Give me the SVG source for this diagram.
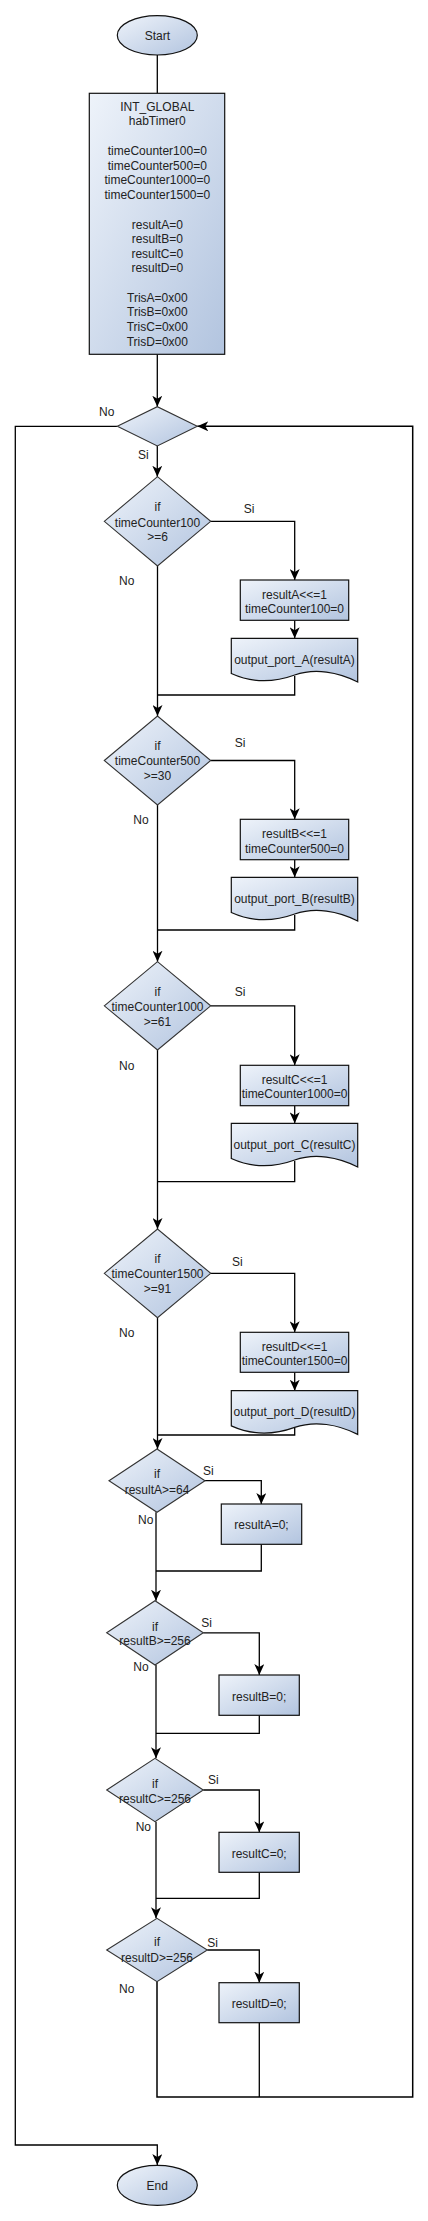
<svg xmlns="http://www.w3.org/2000/svg" width="428" height="2221" viewBox="0 0 428 2221">
<style>
text{font-family:"Liberation Sans",Arial,sans-serif;font-size:12px;fill:#222;text-anchor:middle}
.sh{fill:url(#g);stroke:#111;stroke-width:1.2}
.dm{fill:url(#g);stroke:#333;stroke-width:1.1}
.c{fill:none;stroke:#000;stroke-width:1.3}
.a{marker-end:url(#ar)}
</style>
<defs>
<linearGradient id="g" x1="0" y1="0" x2="1" y2="1">
<stop offset="0" stop-color="#eef3fa"/>
<stop offset="1" stop-color="#b2c4df"/>
</linearGradient>
<marker id="ar" markerUnits="userSpaceOnUse" markerWidth="12" markerHeight="10" viewBox="0 0 12 10" refX="11" refY="5" orient="auto">
<path d="M0,0 L11,5 L0,10 L3,5 z" fill="#000"/>
</marker>
</defs>
<g id="connectors">
<path class="c" d="M157.3,55 V93.3"/>
<path class="c a" d="M157.3,354.3 V406.7"/>
<path class="c a" d="M117.3,426.3 H15.3 V2145 H157.3 V2165"/>
<path class="c a" d="M157.3,446 V476.7"/>
<path class="c a" d="M210.7,521.3 H294.7 V580"/>
<path class="c a" d="M294.7,620.3 V638.3"/>
<path class="c" d="M294.7,676 V695 H157.5"/>
<path class="c a" d="M157.5,566 V716"/>
<path class="c a" d="M210.7,760.5 H294.7 V819.3"/>
<path class="c a" d="M294.7,859.7 V877.3"/>
<path class="c" d="M294.7,915 V930 H157.5"/>
<path class="c a" d="M157.5,805 V961.7"/>
<path class="c a" d="M210.7,1005.8 H294.7 V1065.3"/>
<path class="c a" d="M294.7,1105.7 V1123.3"/>
<path class="c" d="M294.7,1161 V1181.7 H157.5"/>
<path class="c a" d="M157.5,1050 V1229"/>
<path class="c a" d="M210.7,1273.3 H294.7 V1332.3"/>
<path class="c a" d="M294.7,1372.3 V1390.7"/>
<path class="c" d="M294.7,1428 V1435 H157.5"/>
<path class="c a" d="M157.5,1317.7 V1449"/>
<path class="c a" d="M205,1480.7 H261.3 V1504"/>
<path class="c" d="M261.3,1544.3 V1571 H156"/>
<path class="c a" d="M156,1512.3 V1600.7"/>
<path class="c a" d="M203.3,1632.8 H259.3 V1675"/>
<path class="c" d="M259.3,1715.3 V1733.3 H156"/>
<path class="c a" d="M156,1665 V1758.3"/>
<path class="c a" d="M203.3,1790 H259.3 V1832.3"/>
<path class="c" d="M259.3,1872.3 V1898.3 H156"/>
<path class="c a" d="M156,1821.7 V1918.3"/>
<path class="c a" d="M207.3,1950 H259.3 V1982.7"/>
<path class="c" d="M259.3,2022.7 V2097"/>
<path class="c a" d="M157,1981.7 V2097 H412.7 V426.3 H197.3" style="stroke-width:1.5"/>
</g>
<g id="labels">
<text x="106.7" y="416.3">No</text>
<text x="143.3" y="459">Si</text>
<text x="249" y="513">Si</text>
<text x="126.7" y="585">No</text>
<text x="240" y="747.3">Si</text>
<text x="141" y="824">No</text>
<text x="240" y="995.7">Si</text>
<text x="126.7" y="1070">No</text>
<text x="237.3" y="1266.3">Si</text>
<text x="126.7" y="1337.3">No</text>
<text x="208.3" y="1474.7">Si</text>
<text x="145.7" y="1524">No</text>
<text x="206.7" y="1627.3">Si</text>
<text x="141" y="1671">No</text>
<text x="213.3" y="1784">Si</text>
<text x="143.3" y="1831.3">No</text>
<text x="212.7" y="1946.7">Si</text>
<text x="126.7" y="1993">No</text>
</g>
<g id="start">
<ellipse class="sh" cx="157.3" cy="35.3" rx="40" ry="19.7"/>
<text x="157.3" y="39.5">Start</text>
</g>
<g id="init">
<rect class="sh" x="89.3" y="93.3" width="135.4" height="261"/>
<text x="157.3" y="110.9">INT_GLOBAL</text>
<text x="157.3" y="124.9">habTimer0</text>
<text x="157.3" y="155.2">timeCounter100=0</text>
<text x="157.3" y="169.5">timeCounter500=0</text>
<text x="157.3" y="184.2">timeCounter1000=0</text>
<text x="157.3" y="199.2">timeCounter1500=0</text>
<text x="157.3" y="228.5">resultA=0</text>
<text x="157.3" y="243.2">resultB=0</text>
<text x="157.3" y="258.2">resultC=0</text>
<text x="157.3" y="271.9">resultD=0</text>
<text x="157.3" y="302.2">TrisA=0x00</text>
<text x="157.3" y="316.2">TrisB=0x00</text>
<text x="157.3" y="331.2">TrisC=0x00</text>
<text x="157.3" y="345.9">TrisD=0x00</text>
</g>
<g id="loop">
<polygon class="dm" points="117.3,426.3 157.3,406.7 197.3,426.3 157.3,446"/>
</g>
<g id="if100">
<polygon class="dm" points="104.3,521.3 157.5,476.7 210.7,521.3 157.5,566"/>
<text x="157.5" y="510.9">if</text>
<text x="157.5" y="526.5">timeCounter100</text>
<text x="157.5" y="540.9">&gt;=6</text>
</g>
<g id="procA">
<rect class="sh" x="240.3" y="580" width="108.4" height="40.3"/>
<text x="294.5" y="598.5">resultA&lt;&lt;=1</text>
<text x="294.5" y="613.2">timeCounter100=0</text>
</g>
<g id="docA">
<path class="sh" d="M231.3,638.3 H357.7 V682 C338,672 315,668 294.7,675 C270,684 250,682 231.3,673.5 Z"/>
<text x="294.5" y="663.5">output_port_A(resultA)</text>
</g>
<g id="if500">
<polygon class="dm" points="104.3,760.5 157.5,716 210.7,760.5 157.5,805"/>
<text x="157.5" y="750.2">if</text>
<text x="157.5" y="764.9">timeCounter500</text>
<text x="157.5" y="779.5">&gt;=30</text>
</g>
<g id="procB">
<rect class="sh" x="240.3" y="819.3" width="108.4" height="40.4"/>
<text x="294.5" y="837.5">resultB&lt;&lt;=1</text>
<text x="294.5" y="852.5">timeCounter500=0</text>
</g>
<g id="docB">
<path class="sh" d="M231.3,877.3 H357.7 V921 C338,911 315,907 294.7,914 C270,923 250,921 231.3,912.5 Z"/>
<text x="294.5" y="902.5">output_port_B(resultB)</text>
</g>
<g id="if1000">
<polygon class="dm" points="104.3,1005.8 157.5,961.7 210.7,1005.8 157.5,1050"/>
<text x="157.5" y="995.9">if</text>
<text x="157.5" y="1010.9">timeCounter1000</text>
<text x="157.5" y="1025.9">&gt;=61</text>
</g>
<g id="procC">
<rect class="sh" x="240.3" y="1065.3" width="108.4" height="40.4"/>
<text x="294.5" y="1083.5">resultC&lt;&lt;=1</text>
<text x="294.5" y="1098.2">timeCounter1000=0</text>
</g>
<g id="docC">
<path class="sh" d="M231.3,1123.3 H357.7 V1167 C338,1157 315,1153 294.7,1160 C270,1169 250,1167 231.3,1158.5 Z"/>
<text x="294.5" y="1148.5">output_port_C(resultC)</text>
</g>
<g id="if1500">
<polygon class="dm" points="104.3,1273.3 157.5,1229 210.7,1273.3 157.5,1317.7"/>
<text x="157.5" y="1262.5">if</text>
<text x="157.5" y="1278.2">timeCounter1500</text>
<text x="157.5" y="1293.2">&gt;=91</text>
</g>
<g id="procD">
<rect class="sh" x="240.3" y="1332.3" width="108.4" height="40"/>
<text x="294.5" y="1350.9">resultD&lt;&lt;=1</text>
<text x="294.5" y="1365.2">timeCounter1500=0</text>
</g>
<g id="docD">
<path class="sh" d="M231.3,1390.7 H357.7 V1434.4 C338,1424.4 315,1420.4 294.7,1427.4 C270,1436.4 250,1434.4 231.3,1425.9 Z"/>
<text x="294.5" y="1415.9">output_port_D(resultD)</text>
</g>
<g id="ifA">
<polygon class="dm" points="109,1480.7 157,1449 205,1480.7 157,1512.3"/>
<text x="157" y="1478.2">if</text>
<text x="157" y="1493.5">resultA&gt;=64</text>
</g>
<g id="resetA">
<rect class="sh" x="221.3" y="1504" width="80.4" height="40.3"/>
<text x="261.5" y="1529.2">resultA=0;</text>
</g>
<g id="ifB">
<polygon class="dm" points="106.7,1632.8 155,1600.7 203.3,1632.8 155,1665"/>
<text x="155" y="1630.9">if</text>
<text x="155" y="1645.2">resultB&gt;=256</text>
</g>
<g id="resetB">
<rect class="sh" x="219" y="1675" width="80.3" height="40.3"/>
<text x="259.2" y="1700.9">resultB=0;</text>
</g>
<g id="ifC">
<polygon class="dm" points="106.7,1790 155,1758.3 203.3,1790 155,1821.7"/>
<text x="155" y="1787.5">if</text>
<text x="155" y="1802.5">resultC&gt;=256</text>
</g>
<g id="resetC">
<rect class="sh" x="219" y="1832.3" width="80.3" height="40"/>
<text x="259.2" y="1857.5">resultC=0;</text>
</g>
<g id="ifD">
<polygon class="dm" points="106.7,1950 157,1918.3 207.3,1950 157,1981.7"/>
<text x="157" y="1945.9">if</text>
<text x="157" y="1961.5">resultD&gt;=256</text>
</g>
<g id="resetD">
<rect class="sh" x="219" y="1982.7" width="80.3" height="40"/>
<text x="259.2" y="2007.5">resultD=0;</text>
</g>
<g id="end">
<ellipse class="sh" cx="157.3" cy="2185.3" rx="40" ry="20"/>
<text x="157.3" y="2189.5">End</text>
</g>
</svg>
